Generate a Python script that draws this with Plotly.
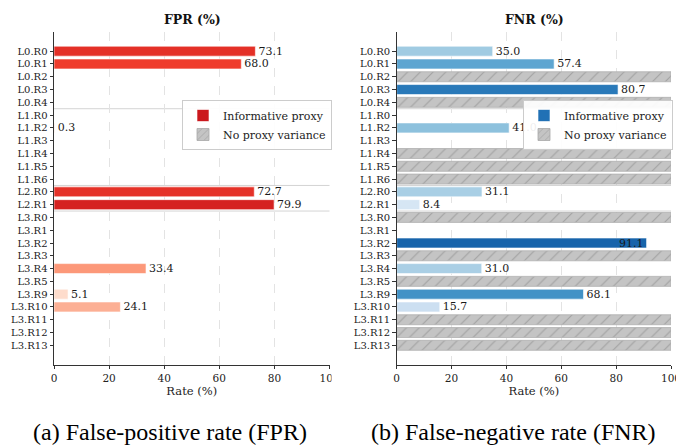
import plotly.graph_objects as go
from plotly.colors import sample_colorscale

# Rule identifiers, top to bottom
categories = ["L0.R0", "L0.R1", "L0.R2", "L0.R3", "L0.R4",
              "L1.R0", "L1.R2", "L1.R3", "L1.R4", "L1.R5", "L1.R6",
              "L2.R0", "L2.R1",
              "L3.R0", "L3.R1", "L3.R2", "L3.R3", "L3.R4", "L3.R5",
              "L3.R9", "L3.R10", "L3.R11", "L3.R12", "L3.R13"]

# False-positive rate (%) per rule (None = no bar)
fpr_values = [73.1, 68.0, None, None, None,
              None, 0.3, None, None, None, None,
              72.7, 79.9,
              None, None, None, None, 33.4, None,
              5.1, 24.1, None, None, None]
fpr_no_variance = []

# False-negative rate (%) per rule
fnr_values = [35.0, 57.4, None, 80.7, None,
              None, 41.0, None, None, None, None,
              31.1, 8.4,
              None, None, 91.1, None, 31.0, None,
              68.1, 15.7, None, None, None]
fnr_no_variance = ["L0.R2", "L0.R4", "L1.R4", "L1.R5", "L1.R6",
                   "L3.R0", "L3.R3", "L3.R5", "L3.R11", "L3.R12", "L3.R13"]

W, H = 676, 445
FONT = "DejaVu Serif"
GRAY_FILL = "#c4c4c4"
GRAY_HATCH = "#a2a2a2"


def px_x(p):
    return p / W


def px_y(p):
    return 1 - p / H


fig = go.Figure()


def add_panel(values, no_var, scale, xa, ya, legend, swatch):
    colors = [sample_colorscale(scale, [0.1 + 0.77 * v / 100])[0] if v is not None
              else "rgba(0,0,0,0)" for v in values]
    texts = [f"{v:.1f}" if v is not None else "" for v in values]
    positions = ["inside" if (v is not None and v > 85) else "outside" for v in values]
    fig.add_trace(go.Bar(
        x=values, y=categories, orientation="h", width=0.78,
        marker=dict(color=colors, line=dict(color="white", width=0.6)),
        text=texts, textposition=positions, insidetextanchor="end",
        textfont=dict(family=FONT, size=11, color="#1a1a1a"),
        insidetextfont=dict(family=FONT, size=11, color="#1a1a1a"),
        outsidetextfont=dict(family=FONT, size=11, color="#1a1a1a"),
        constraintext="none", cliponaxis=False, showlegend=False,
        xaxis=xa, yaxis=ya, hoverinfo="skip"))
    fig.add_trace(go.Bar(
        x=[100] * len(no_var), y=no_var, orientation="h", width=0.78,
        marker=dict(color=GRAY_FILL, line=dict(color="#b0b0b0", width=0.8),
                    pattern=dict(shape="/", fgcolor=GRAY_HATCH, bgcolor=GRAY_FILL,
                                 size=9, solidity=0.12, fillmode="replace")),
        showlegend=False, xaxis=xa, yaxis=ya, hoverinfo="skip"))
    # legend entries
    fig.add_trace(go.Bar(
        x=[None], y=[categories[0]], orientation="h", name="Informative proxy",
        marker=dict(color=swatch, line=dict(color="white", width=0.6)),
        xaxis=xa, yaxis=ya, legend=legend, showlegend=True, hoverinfo="skip"))
    fig.add_trace(go.Bar(
        x=[None], y=[categories[0]], orientation="h", name="No proxy variance",
        marker=dict(color=GRAY_FILL, line=dict(color="#a8a8a8", width=0.8),
                    pattern=dict(shape="/", fgcolor=GRAY_HATCH, bgcolor=GRAY_FILL,
                                 size=6, solidity=0.15, fillmode="replace")),
        xaxis=xa, yaxis=ya, legend=legend, showlegend=True, hoverinfo="skip"))


add_panel(fpr_values, fpr_no_variance, "Reds", "x", "y", "legend", "#cb181d")
add_panel(fnr_values, fnr_no_variance, "Blues", "x2", "y2", "legend2", "#2171b5")

y_dom = [px_y(364.5), px_y(32)]
n = len(categories)

xaxis_common = dict(
    range=[0, 100], tickvals=[0, 20, 40, 60, 80, 100],
    showgrid=True, gridcolor="#e3e3e3", griddash="dash", gridwidth=0.8,
    showline=True, linecolor="#333333", linewidth=1,
    ticks="outside", ticklen=3.5, tickwidth=0.8, tickcolor="#333333",
    zeroline=False, fixedrange=True, automargin=False, ticklabeloverflow="allow",
    tickfont=dict(family=FONT, size=10.5, color="#222222"),
    title=dict(text="Rate (%)", font=dict(family=FONT, size=11.5, color="#222222"),
               standoff=2),
)
yaxis_common = dict(
    domain=y_dom, type="category", categoryorder="array", categoryarray=categories,
    range=[n + 0.5, -1.5], showgrid=False, zeroline=False,
    showline=True, linecolor="#333333", linewidth=1, automargin=False,
    ticks="outside", ticklen=3.5, tickwidth=0.8, tickcolor="#333333",
    tickfont=dict(family=FONT, size=10, color="#222222"), fixedrange=True,
)

# light separators between rule levels
shapes = []
levels = [c.split(".")[0] for c in categories]
for i in range(1, n):
    if levels[i] != levels[i - 1]:
        for xr, yr in (("x domain", "y"), ("x2 domain", "y2")):
            shapes.append(dict(type="line", xref=xr, yref=yr, x0=0, x1=1,
                               y0=i - 0.5, y1=i - 0.5, layer="below",
                               line=dict(color="#d4d4d4", width=1)))
# the left panel's last tick label is cut by the panel edge
shapes.append(dict(type="rect", xref="paper", yref="paper",
                   x0=px_x(331.5), x1=px_x(346), y0=px_y(386), y1=px_y(368),
                   fillcolor="white", line=dict(width=0), layer="above"))

legend_common = dict(
    xanchor="left", yanchor="top", bgcolor="rgba(255,255,255,0.92)",
    bordercolor="#cccccc", borderwidth=1,
    font=dict(family=FONT, size=11, color="#222222"),
    tracegroupgap=0, itemclick=False, itemdoubleclick=False,
)

fig.update_layout(
    width=W, height=H, margin=dict(l=0, r=0, t=0, b=0, autoexpand=False),
    paper_bgcolor="white", plot_bgcolor="white", barmode="overlay",
    xaxis=dict(domain=[px_x(54), px_x(329.5)], anchor="y", **xaxis_common),
    yaxis=dict(anchor="x", **yaxis_common),
    xaxis2=dict(domain=[px_x(396.7), px_x(671)], anchor="y2", **xaxis_common),
    yaxis2=dict(anchor="x2", **yaxis_common),
    legend=dict(x=px_x(182), y=px_y(100), **legend_common),
    legend2=dict(x=px_x(523), y=px_y(100), **legend_common),
    shapes=shapes,
    annotations=[
        dict(text="<b>FPR (%)</b>", x=px_x(192), y=px_y(19), xref="paper", yref="paper",
             showarrow=False, xanchor="center", yanchor="middle",
             font=dict(family=FONT, size=12.5, color="#111111")),
        dict(text="<b>FNR (%)</b>", x=px_x(534), y=px_y(19), xref="paper", yref="paper",
             showarrow=False, xanchor="center", yanchor="middle",
             font=dict(family=FONT, size=12.5, color="#111111")),
        dict(text="(a) False-positive rate (FPR)", x=px_x(170), y=px_y(432),
             xref="paper", yref="paper", showarrow=False, xanchor="center",
             yanchor="middle", font=dict(family="Liberation Serif", size=24, color="#000000")),
        dict(text="(b) False-negative rate (FNR)", x=px_x(513), y=px_y(432),
             xref="paper", yref="paper", showarrow=False, xanchor="center",
             yanchor="middle", font=dict(family="Liberation Serif", size=24, color="#000000")),
    ],
)

fig.write_html("out.html")
